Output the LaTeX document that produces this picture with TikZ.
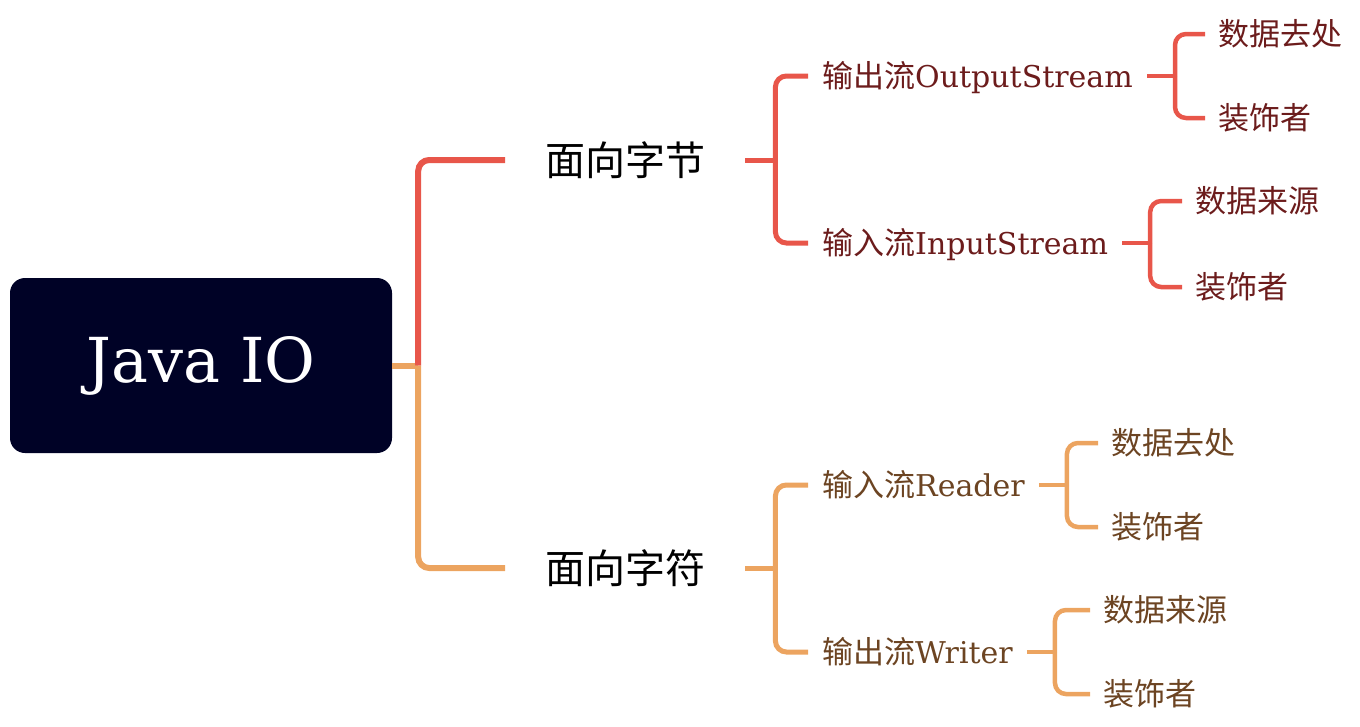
\documentclass[tikz,border=0pt]{standalone}
\usepackage{fontspec}
\setmainfont{DejaVu Serif}
\newfontfamily\cjk{Noto Sans CJK SC}
\definecolor{navy}{RGB}{0,2,38}
\definecolor{redl}{RGB}{232,86,74}
\definecolor{orgl}{RGB}{236,164,96}
\definecolor{redt}{RGB}{108,28,28}
\definecolor{orgt}{RGB}{108,68,34}
\begin{document}
\begin{tikzpicture}[x=1pt,y=-1pt,
  rootbox/.style={fill=navy,text=white,rounded corners=15pt,minimum width=382pt,minimum height=175pt,inner sep=0pt,font=\fontsize{62}{74}\selectfont},
  lvlone/.style={anchor=west,inner xsep=40pt,inner ysep=0pt,text height=34pt,text depth=4pt,font=\cjk\fontsize{40}{48}\selectfont},
  lvltwo/.style={anchor=west,inner xsep=14pt,inner ysep=0pt,text height=25.5pt,text depth=2.5pt,font=\fontsize{30}{36}\selectfont},
  lvlthree/.style={anchor=west,inner xsep=13pt,inner ysep=0pt,text height=26pt,text depth=3pt,font=\cjk\fontsize{31}{38}\selectfont},
  wone/.style={line width=6pt},
  wtwo/.style={line width=5pt},
  wthree/.style={line width=4.5pt},
  rc/.style={rounded corners=11pt}
]
\useasboundingbox (0,0) rectangle (1360,726);

% nodes
\node[rootbox] (root) at (201,365.5) {Java IO};

\node[lvlone] (b) at (505,160) {面向字节};
\node[lvlone] (c) at (505,568) {面向字符};

\node[lvltwo,text=redt] (bo) at (808,76) {{\cjk\fontsize{31}{38}\selectfont 输出流}OutputStream};
\node[lvltwo,text=redt] (bi) at (808,243) {{\cjk\fontsize{31}{38}\selectfont 输入流}InputStream};
\node[lvltwo,text=orgt] (cr) at (808,485) {{\cjk\fontsize{31}{38}\selectfont 输入流}Reader};
\node[lvltwo,text=orgt] (cw) at (808,652) {{\cjk\fontsize{31}{38}\selectfont 输出流}Writer};

\node[lvlthree,text=redt] (bo1) at (1205,34) {数据去处};
\node[lvlthree,text=redt] (bo2) at (1205,118) {装饰者};
\node[lvlthree,text=redt] (bi1) at (1182,201) {数据来源};
\node[lvlthree,text=redt] (bi2) at (1182,287) {装饰者};
\node[lvlthree,text=orgt] (cr1) at (1098,443) {数据去处};
\node[lvlthree,text=orgt] (cr2) at (1098,527) {装饰者};
\node[lvlthree,text=orgt] (cw1) at (1090,610) {数据来源};
\node[lvlthree,text=orgt] (cw2) at (1090,694) {装饰者};

% level 1 connectors
\draw[wone,orgl] (root.east) -- ++(26,0) coordinate (j0);
\draw[wone,redl,rc] (j0) |- (b.west);
\draw[wone,orgl,rc] (j0) |- (c.west);

% level 2 connectors
\draw[wtwo,redl] (b.east) -- ++(30,0) coordinate (jb);
\draw[wtwo,redl,rc] (jb) |- (bo.west);
\draw[wtwo,redl,rc] (jb) |- (bi.west);
\draw[wtwo,orgl] (c.east) -- ++(30,0) coordinate (jc);
\draw[wtwo,orgl,rc] (jc) |- (cr.west);
\draw[wtwo,orgl,rc] (jc) |- (cw.west);

% level 3 connectors
\draw[wthree,redl] (bo.east) -- ++(28,0) coordinate (jbo);
\draw[wthree,redl,rc] (jbo) |- (bo1.west);
\draw[wthree,redl,rc] (jbo) |- (bo2.west);
\draw[wthree,redl] (bi.east) -- ++(28,0) coordinate (jbi);
\draw[wthree,redl,rc] (jbi) |- (bi1.west);
\draw[wthree,redl,rc] (jbi) |- (bi2.west);
\draw[wthree,orgl] (cr.east) -- ++(28,0) coordinate (jcr);
\draw[wthree,orgl,rc] (jcr) |- (cr1.west);
\draw[wthree,orgl,rc] (jcr) |- (cr2.west);
\draw[wthree,orgl] (cw.east) -- ++(28,0) coordinate (jcw);
\draw[wthree,orgl,rc] (jcw) |- (cw1.west);
\draw[wthree,orgl,rc] (jcw) |- (cw2.west);
\end{tikzpicture}
\end{document}
